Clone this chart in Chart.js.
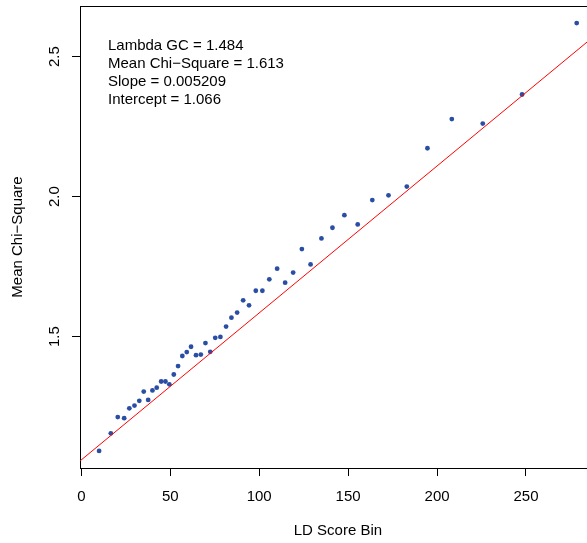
<!DOCTYPE html>
<html><head><meta charset="utf-8">
<script src="https://cdn.jsdelivr.net/npm/chart.js@4"></script>
<style>html,body{margin:0;padding:0;background:#fff}canvas{display:block}</style>
</head><body>
<canvas id="c" width="587" height="543" style="width:587px;height:543px"></canvas>
<script>
// LD score bin (x) and mean chi-square (y)
const ldBins = [10.0, 16.6, 20.5, 24.1, 27.0, 29.9, 32.6, 35.1, 37.6, 40.0,
  42.4, 44.9, 47.3, 49.5, 52.0, 54.4, 56.8, 59.3, 61.7, 64.5,
  67.2, 69.8, 72.5, 75.3, 78.2, 81.4, 84.4, 87.6, 91.0, 94.3,
  98.1, 101.8, 105.7, 110.1, 114.6, 119.1, 124.0, 128.9, 135.0, 141.2,
  147.9, 155.4, 163.6, 172.7, 183.0, 194.6, 208.3, 225.7, 247.8, 278.5];
const meanChi = [1.092, 1.155, 1.213, 1.209, 1.244, 1.254, 1.271, 1.304, 1.274, 1.308,
  1.318, 1.340, 1.340, 1.330, 1.365, 1.395, 1.431, 1.445, 1.464, 1.434,
  1.436, 1.477, 1.446, 1.496, 1.499, 1.536, 1.568, 1.586, 1.630, 1.612,
  1.664, 1.664, 1.705, 1.743, 1.693, 1.729, 1.813, 1.758, 1.851, 1.889,
  1.934, 1.901, 1.988, 2.005, 2.036, 2.173, 2.277, 2.261, 2.365, 2.620];
// fitted line end points (read at the plot edges)
const fitX = [-0.74, 289.24];
const fitY = [1.056, 2.578];
const xTicks = [0, 50, 100, 150, 200, 250];
const yTicks = [1.5, 2.0, 2.5];
const xLimits = [-0.73, 284.3];     // visible part of the x range (plot is cut at the right edge)
const xFullRange = [-0.74, 289.24]; // full plotting range, used to centre the x title
const yLimits = [1.031, 2.681];
const annotations = ["Lambda GC = 1.484", "Mean Chi\u2212Square = 1.613", "Slope = 0.005209", "Intercept = 1.066"];
const xTitle = "LD Score Bin";
const yTitle = "Mean Chi\u2212Square";

const FONT = '"Liberation Sans", Arial, Helvetica, sans-serif';
Chart.defaults.font.family = FONT;
Chart.defaults.font.size = 15;
Chart.defaults.color = '#000';

const boxAndText = {
  id: 'boxAndText',
  afterDraw(chart) {
    const {ctx, chartArea, scales} = chart;
    ctx.save();
    ctx.strokeStyle = '#000';
    ctx.lineWidth = 1;
    const t = Math.round(chartArea.top) + 0.5;
    ctx.beginPath();
    ctx.moveTo(chartArea.left, t);
    ctx.lineTo(chartArea.right, t);
    ctx.stroke();
    ctx.fillStyle = '#000';
    ctx.font = '15px ' + FONT;
    ctx.textBaseline = 'middle';
    ctx.textAlign = 'left';
    annotations.forEach((s, i) => ctx.fillText(s, 108, 45.5 + i * 18));
    // x axis title, centred on the full plotting range
    const cx = (scales.x.getPixelForValue(xFullRange[0]) + scales.x.getPixelForValue(xFullRange[1])) / 2;
    ctx.textAlign = 'center';
    ctx.fillText(xTitle, cx, 531);
    ctx.restore();
  }
};

const gridOpts = { drawOnChartArea: false, tickLength: 8, color: '#000', lineWidth: 1 };
const borderOpts = { display: true, color: '#000', width: 1 };

new Chart(document.getElementById('c'), {
  type: 'scatter',
  data: {
    datasets: [
      {
        type: 'line',
        data: fitX.map((x, i) => ({x, y: fitY[i]})),
        borderColor: '#ff0000',
        borderWidth: 1,
        pointRadius: 0,
        fill: false,
        tension: 0
      },
      {
        data: ldBins.map((x, i) => ({x, y: meanChi[i]})),
        backgroundColor: '#2a4ea3',
        borderWidth: 0,
        pointRadius: 2.4
      }
    ]
  },
  options: {
    responsive: false,
    animation: false,
    devicePixelRatio: 1,
    layout: { autoPadding: false, padding: { top: 6, right: 0, bottom: 0, left: 0 } },
    plugins: { legend: { display: false }, tooltip: { enabled: false } },
    scales: {
      x: {
        type: 'linear',
        min: xLimits[0], max: xLimits[1],
        afterBuildTicks: s => { s.ticks = xTicks.map(v => ({value: v})); },
        afterFit: s => { s.height = 75; s.paddingLeft = 0; s.paddingRight = 0; },
        grid: gridOpts,
        border: borderOpts,
        ticks: { color: '#000', padding: 12, maxRotation: 0, minRotation: 0, autoSkip: false, callback: v => String(v) },
        title: { display: false }
      },
      y: {
        type: 'linear',
        min: yLimits[0], max: yLimits[1],
        afterBuildTicks: s => { s.ticks = yTicks.map(v => ({value: v})); },
        afterFit: s => { s.width = 80; s.paddingTop = 0; s.paddingBottom = 0; },
        grid: gridOpts,
        border: borderOpts,
        ticks: { color: '#000', padding: 7, minRotation: 90, maxRotation: 90, crossAlign: 'center', autoSkip: false, callback: v => Number(v).toFixed(1) },
        title: { display: true, text: yTitle, color: '#000', padding: { top: 9, bottom: 0 } }
      }
    }
  },
  plugins: [boxAndText]
});
</script>
</body></html>
